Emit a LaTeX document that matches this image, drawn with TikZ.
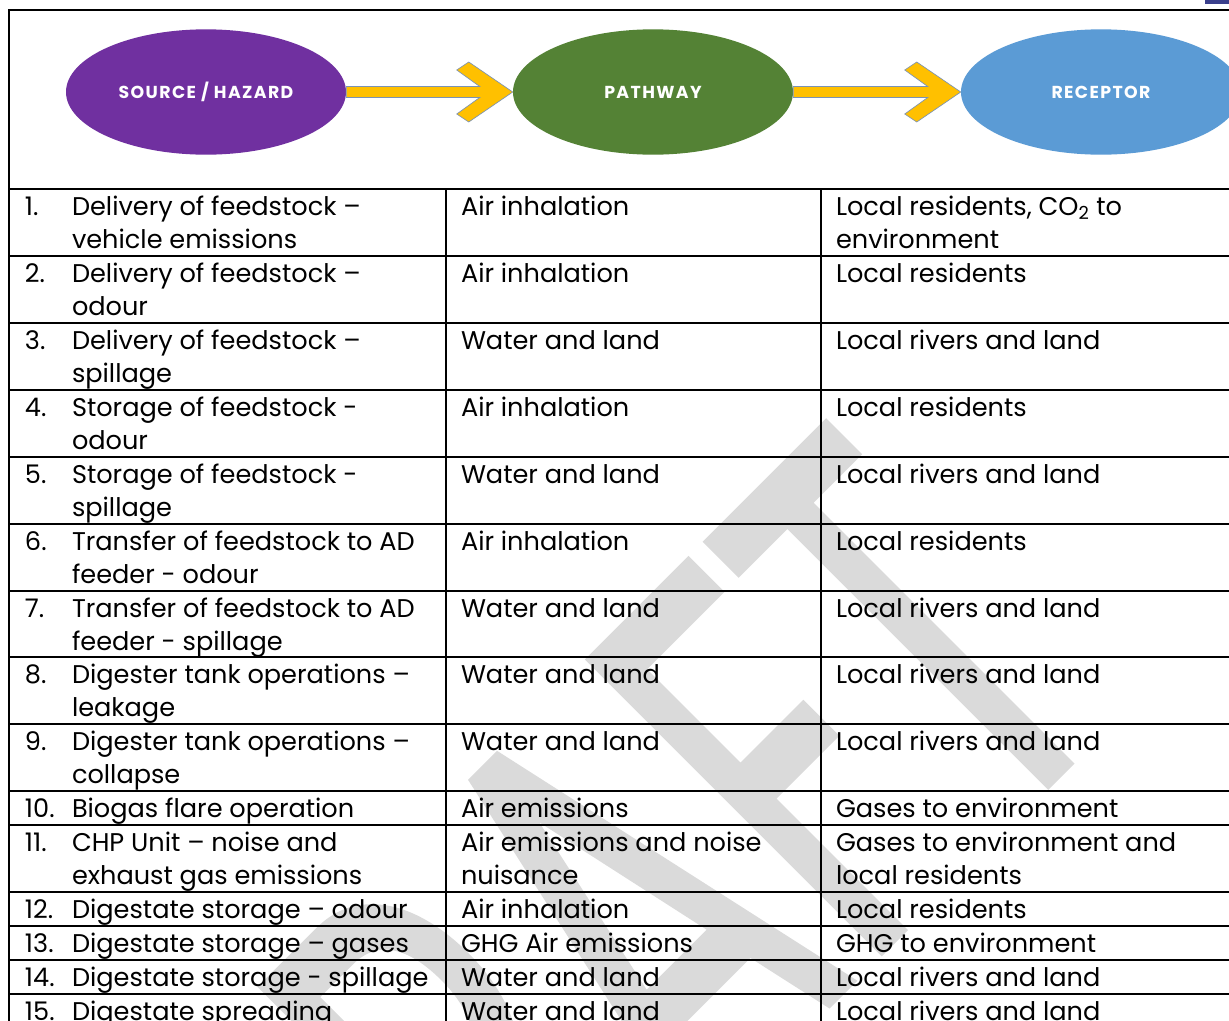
\documentclass[tikz,border=0pt]{standalone}
\usepackage{fontspec}
\setmainfont{Poppins}
\newfontfamily\wmfont[FakeBold=1.2]{Poppins}
\usetikzlibrary{shapes.geometric,calc}
\definecolor{purp}{HTML}{7030A0}
\definecolor{grn}{HTML}{548235}
\definecolor{blu}{HTML}{5B9BD5}
\definecolor{gold}{HTML}{FFC000}
\definecolor{arrowline}{HTML}{7A93B5}
\definecolor{wmark}{HTML}{DADADA}
\definecolor{logo}{HTML}{3A3F8C}
\newcommand\blockarrow[2]{%
  \filldraw[arrowfill] ($(#1.east)+(0,-5.5)$) -- ($(#2.west)+(-33,-5.5)$)
    -- ($(#2.west)+(-56,-22)$) -- ($(#2.west)+(-44,-30)$) -- (#2.west)
    -- ($(#2.west)+(-44,30)$) -- ($(#2.west)+(-56,22)$)
    -- ($(#2.west)+(-33,5.5)$) -- ($(#1.east)+(0,5.5)$) -- cycle;}
\begin{document}
\begin{tikzpicture}[x=0.75pt,y=-0.75pt,
  oval/.style={ellipse, minimum width=210pt, minimum height=94pt, inner sep=0pt,
    text=white, font=\bfseries\fontsize{13}{15}\selectfont\addfontfeatures{LetterSpace=8}},
  arrowfill/.style={fill=gold, draw=arrowline, line width=0.5pt, line join=miter},
  rule/.style={line width=1.7pt, black},
  txt/.style={anchor=base west, inner sep=0pt, outer sep=0pt,
    font=\fontsize{19.2}{24}\selectfont, text=black},
]
\useasboundingbox (0,0) rectangle (1229,1021);
\fill[white] (0,0) rectangle (1229,1021);
% watermark
\node[anchor=base east, rotate=45, xscale=0.61, inner sep=0pt, text=wmark,
  font=\wmfont\fontsize{444}{444}\selectfont] (wm) at (1128,705) {DRAFT};
% logo fragment
\fill[logo] (1205,0) rectangle (1229,4);
% header diagram
\node[oval, fill=purp] (src) at (206,92) {SOURCE / HAZARD};
\node[oval, fill=grn] (pth) at (653,92) {PATHWAY};
\node[oval, fill=blu] (rec) at (1101,92) {RECEPTOR};
\blockarrow{src}{pth}
\blockarrow{pth}{rec}
% table rules
\draw[rule] (1229,10) -- (9,10) -- (9,1021);
\foreach \yy in {189,256,323,390,457,524,591,657,724,791,825,892,926,960,994}
  \draw[rule] (9,\yy) -- (1229,\yy);
\draw[rule] (446,189) -- (446,1021);
\draw[rule] (821,189) -- (821,1021);
% row 1
\node[txt] (n1) at (25,215.5) {1.};
\node[txt] (a1) at (72,215.5) {Delivery of feedstock –};
\node[txt] (a1b) at (72,248) {vehicle emissions};
\node[txt] (b1) at (461,215.5) {Air inhalation};
\node[txt] (c1) at (836,215.5) {Local residents, CO\textsubscript{2} to};
\node[txt] (c1b) at (836,248) {environment};
% row 2
\node[txt] (n2) at (25,282.5) {2.};
\node[txt] (a2) at (72,282.5) {Delivery of feedstock –};
\node[txt] (a2b) at (72,315) {odour};
\node[txt] (b2) at (461,282.5) {Air inhalation};
\node[txt] (c2) at (836,282.5) {Local residents};
% row 3
\node[txt] (n3) at (25,349.5) {3.};
\node[txt] (a3) at (72,349.5) {Delivery of feedstock –};
\node[txt] (a3b) at (72,382) {spillage};
\node[txt] (b3) at (461,349.5) {Water and land};
\node[txt] (c3) at (836,349.5) {Local rivers and land};
% row 4
\node[txt] (n4) at (25,416.5) {4.};
\node[txt] (a4) at (72,416.5) {Storage of feedstock -};
\node[txt] (a4b) at (72,449) {odour};
\node[txt] (b4) at (461,416.5) {Air inhalation};
\node[txt] (c4) at (836,416.5) {Local residents};
% row 5
\node[txt] (n5) at (25,483.5) {5.};
\node[txt] (a5) at (72,483.5) {Storage of feedstock -};
\node[txt] (a5b) at (72,516) {spillage};
\node[txt] (b5) at (461,483.5) {Water and land};
\node[txt] (c5) at (836,483.5) {Local rivers and land};
% row 6
\node[txt] (n6) at (25,550.5) {6.};
\node[txt] (a6) at (72,550.5) {Transfer of feedstock to AD};
\node[txt] (a6b) at (72,583) {feeder - odour};
\node[txt] (b6) at (461,550.5) {Air inhalation};
\node[txt] (c6) at (836,550.5) {Local residents};
% row 7
\node[txt] (n7) at (25,617.5) {7.};
\node[txt] (a7) at (72,617.5) {Transfer of feedstock to AD};
\node[txt] (a7b) at (72,650) {feeder - spillage};
\node[txt] (b7) at (461,617.5) {Water and land};
\node[txt] (c7) at (836,617.5) {Local rivers and land};
% row 8
\node[txt] (n8) at (25,683.5) {8.};
\node[txt] (a8) at (72,683.5) {Digester tank operations –};
\node[txt] (a8b) at (72,716) {leakage};
\node[txt] (b8) at (461,683.5) {Water and land};
\node[txt] (c8) at (836,683.5) {Local rivers and land};
% row 9
\node[txt] (n9) at (25,750.5) {9.};
\node[txt] (a9) at (72,750.5) {Digester tank operations –};
\node[txt] (a9b) at (72,783) {collapse};
\node[txt] (b9) at (461,750.5) {Water and land};
\node[txt] (c9) at (836,750.5) {Local rivers and land};
% row 10
\node[txt] (n10) at (25,817.5) {10.};
\node[txt] (a10) at (72,817.5) {Biogas flare operation};
\node[txt] (b10) at (461,817.5) {Air emissions};
\node[txt] (c10) at (836,817.5) {Gases to environment};
% row 11
\node[txt] (n11) at (25,851.5) {11.};
\node[txt] (a11) at (72,851.5) {CHP Unit – noise and};
\node[txt] (a11b) at (72,884) {exhaust gas emissions};
\node[txt] (b11) at (461,851.5) {Air emissions and noise};
\node[txt] (b11b) at (461,884) {nuisance};
\node[txt] (c11) at (836,851.5) {Gases to environment and};
\node[txt] (c11b) at (836,884) {local residents};
% row 12
\node[txt] (n12) at (25,918.5) {12.};
\node[txt] (a12) at (72,918.5) {Digestate storage – odour};
\node[txt] (b12) at (461,918.5) {Air inhalation};
\node[txt] (c12) at (836,918.5) {Local residents};
% row 13
\node[txt] (n13) at (25,952.5) {13.};
\node[txt] (a13) at (72,952.5) {Digestate storage – gases};
\node[txt] (b13) at (461,952.5) {GHG Air emissions};
\node[txt] (c13) at (836,952.5) {GHG to environment};
% row 14
\node[txt] (n14) at (25,986.5) {14.};
\node[txt] (a14) at (72,986.5) {Digestate storage - spillage};
\node[txt] (b14) at (461,986.5) {Water and land};
\node[txt] (c14) at (836,986.5) {Local rivers and land};
% row 15
\node[txt] (n15) at (25,1020) {15.};
\node[txt] (a15) at (72,1020) {Digestate spreading};
\node[txt] (b15) at (461,1020) {Water and land};
\node[txt] (c15) at (836,1020) {Local rivers and land};
\end{tikzpicture}
\end{document}
